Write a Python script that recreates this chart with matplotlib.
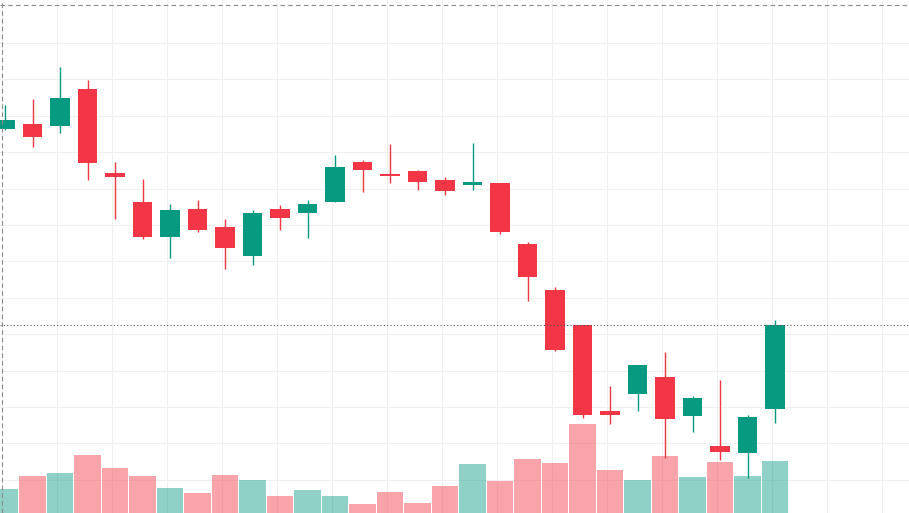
import matplotlib
matplotlib.use("Agg")
import matplotlib.pyplot as plt
import numpy as np

H = 513
opens  = [H-129,H-124,H-126,H-89,H-173,H-202,H-237,H-209,H-227,H-256,H-209,H-213,H-202,H-162,H-174,H-171,H-180,H-185,H-183,H-244,H-290,H-325,H-411,H-394,H-377,H-416,H-446,H-453,H-409]
closes = [H-120,H-137,H-98,H-163,H-177,H-237,H-210,H-230,H-248,H-213,H-218,H-204,H-167,H-170,H-176,H-182,H-191,H-182,H-232,H-277,H-350,H-415,H-415,H-365,H-419,H-398,H-452,H-417,H-325]
highs  = [H-105,H-99,H-67,H-80,H-162,H-179,H-204,H-200,H-219,H-210,H-205,H-200,H-155,H-160,H-144,H-170,H-177,H-143,H-183,H-242,H-287,H-325,H-386,H-365,H-352,H-396,H-380,H-415,H-320]
lows   = [H-130,H-147,H-133,H-180,H-219,H-239,H-258,H-232,H-269,H-265,H-230,H-238,H-202,H-192,H-183,H-190,H-195,H-190,H-234,H-301,H-351,H-418,H-424,H-411,H-458,H-432,H-460,H-478,H-423]
volumes = [H-489,H-476,H-473,H-455,H-468,H-476,H-488,H-493,H-475,H-480,H-496,H-490,H-496,H-504,H-492,H-503,H-486,H-464,H-481,H-459,H-463,H-424,H-470,H-480,H-456,H-477,H-462,H-476,H-461]

GREEN = "#089981"; RED = "#F23645"
fig = plt.figure(figsize=(9.09, 5.13), dpi=100)
ax = fig.add_axes([0, 0, 1, 1])
sp = 27.5
xmin = -5/sp
ax.set_xlim(xmin, xmin + 909/sp)
ax.set_ylim(0, H)
for s in ax.spines.values():
    s.set_visible(False)
ax.set_xticks([]); ax.set_yticks([])

for gy in np.arange(H-43, 0, -36.4):
    ax.axhline(gy, color="#f0f0f0", lw=0.8, zorder=0)
for gx in np.arange(-0.1, 33, 2):
    ax.axvline(gx, color="#f0f0f0", lw=0.8, zorder=0)

x = np.arange(len(opens))
for i in x:
    o, c, h, l, v = opens[i], closes[i], highs[i], lows[i], volumes[i]
    col = GREEN if c >= o else RED
    ax.bar(i, v, width=0.95, bottom=0, color=col, alpha=0.45, zorder=1, lw=0)
    ax.vlines(i, l, h, color=col, lw=1, zorder=2)
    ax.bar(i, max(abs(c-o), 1.5), width=0.72, bottom=min(o, c), color=col, zorder=3, lw=0)

ax.axhline(closes[-1], color="#555555", lw=0.8, ls=(0, (1, 2)), zorder=4)
ax.axhline(H-5, color="#888888", lw=0.8, ls=(0, (4, 3)), zorder=4)
ax.axvline(xmin + 2/sp, color="#888888", lw=0.8, ls=(0, (4, 3)), zorder=4)
fig.savefig("out.png", dpi=100)
